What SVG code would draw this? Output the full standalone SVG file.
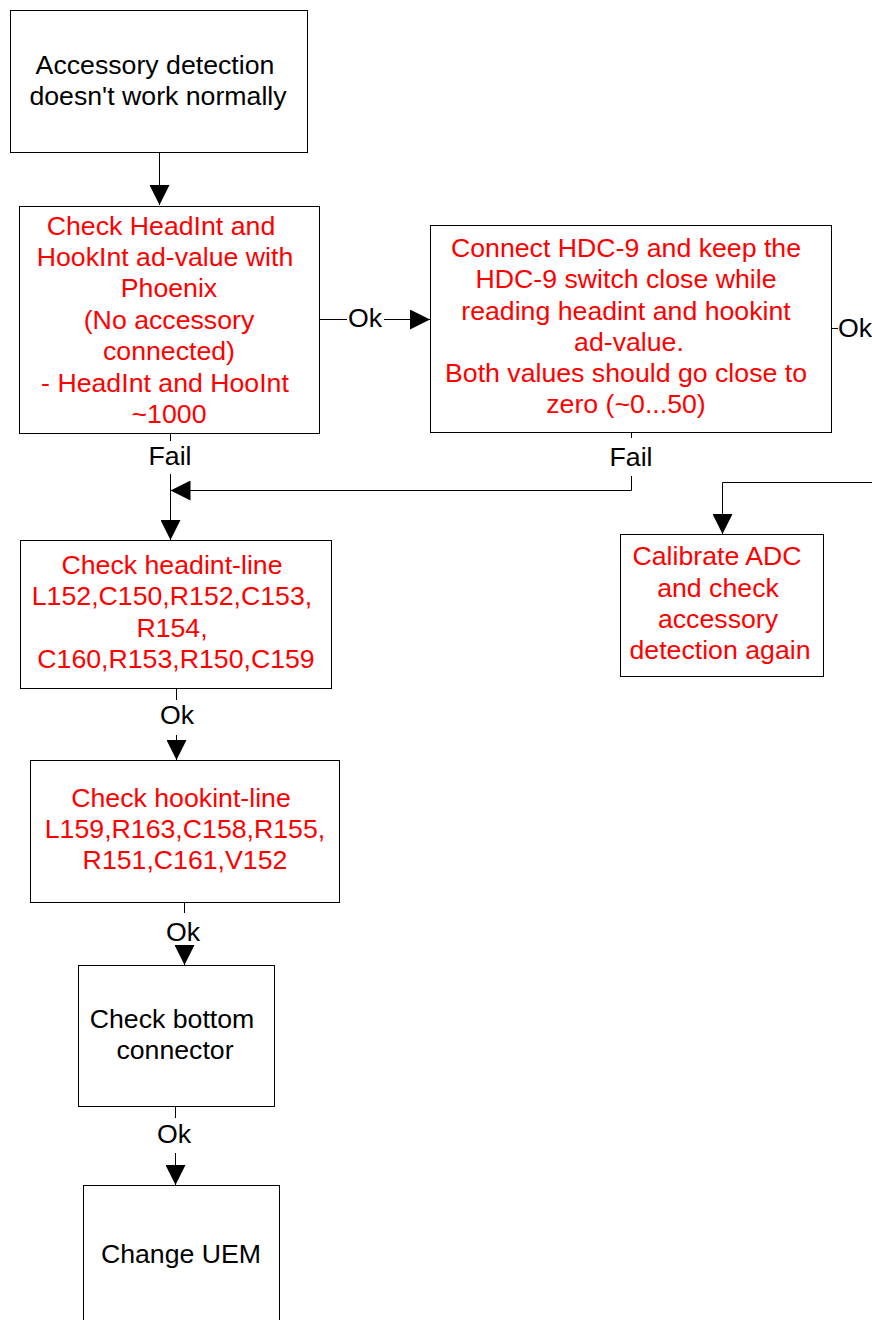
<svg xmlns="http://www.w3.org/2000/svg" width="872" height="1320" viewBox="0 0 872 1320">
<style>
.box{fill:#fff;stroke:#000;stroke-width:1}
text{font-family:"Liberation Sans",Arial,sans-serif;font-size:26.7px;text-anchor:middle}
.r{fill:#ff0000}
.k{fill:#000}
.ln{fill:none;stroke:#000;stroke-width:1}
</style>
<defs>
<marker id="ah" viewBox="0 0 20 20" refX="20" refY="10" markerWidth="20" markerHeight="20" markerUnits="userSpaceOnUse" orient="auto">
<path d="M0,0 L20,10 L0,20 z" fill="#000"/>
</marker>
</defs>
<g id="connectors">
<path class="ln" d="M159.5,152 V205" marker-end="url(#ah)"/>
<path class="ln" d="M320,319.5 H347"/>
<path class="ln" d="M384,319.5 H430" marker-end="url(#ah)"/>
<path class="ln" d="M832,328.5 H838"/>
<path class="ln" d="M170.5,433 V441"/>
<path class="ln" d="M170.5,474 V540" marker-end="url(#ah)"/>
<path class="ln" d="M631.5,432 V438"/>
<path class="ln" d="M631.5,476 V490.5 H170.5" marker-end="url(#ah)"/>
<path class="ln" d="M872,482.5 H722.5 V534" marker-end="url(#ah)"/>
<path class="ln" d="M176.5,688 V700"/>
<path class="ln" d="M176.5,735 V760" marker-end="url(#ah)"/>
<path class="ln" d="M184.5,902 V913"/>
<path class="ln" d="M184.5,950 V965" marker-end="url(#ah)"/>
<path class="ln" d="M175.5,1107 V1118"/>
<path class="ln" d="M175.5,1153 V1185" marker-end="url(#ah)"/>
<text class="k" x="365" y="327">Ok</text>
<text class="k" x="838" y="337" style="text-anchor:start">Ok</text>
<text class="k" x="170" y="465">Fail</text>
<text class="k" x="631" y="466">Fail</text>
<text class="k" x="177" y="724">Ok</text>
<text class="k" x="183" y="941">Ok</text>
<text class="k" x="174" y="1143">Ok</text>
</g>
<g id="n1">
<rect class="box" x="10.5" y="10.5" width="297" height="142"/>
<text class="k" x="155" y="74">Accessory detection</text>
<text class="k" x="158" y="105">doesn't work normally</text>
</g>
<g id="n2">
<rect class="box" x="19.5" y="206.5" width="300" height="227"/>
<text class="r" x="161" y="235">Check HeadInt and</text>
<text class="r" x="165" y="266">HookInt ad-value with</text>
<text class="r" x="169" y="297">Phoenix</text>
<text class="r" x="169" y="329">(No accessory</text>
<text class="r" x="169" y="360">connected)</text>
<text class="r" x="165" y="392">- HeadInt and HooInt</text>
<text class="r" x="169" y="423">~1000</text>
</g>
<g id="n3">
<rect class="box" x="430.5" y="225.5" width="401" height="207"/>
<text class="r" x="626" y="257">Connect HDC-9 and keep the</text>
<text class="r" x="626" y="288">HDC-9 switch close while</text>
<text class="r" x="626" y="320">reading headint and hookint</text>
<text class="r" x="629" y="351">ad-value.</text>
<text class="r" x="626" y="382">Both values should go close to</text>
<text class="r" x="626" y="413">zero (~0...50)</text>
</g>
<g id="n4">
<rect class="box" x="620.5" y="534.5" width="203" height="142"/>
<text class="r" x="717" y="565">Calibrate ADC</text>
<text class="r" x="718" y="597">and check</text>
<text class="r" x="718" y="628">accessory</text>
<text class="r" x="720" y="659">detection again</text>
</g>
<g id="n5">
<rect class="box" x="20.5" y="540.5" width="311" height="148"/>
<text class="r" x="172" y="574">Check headint-line</text>
<text class="r" x="172" y="605">L152,C150,R152,C153,</text>
<text class="r" x="172" y="637">R154,</text>
<text class="r" x="176" y="668">C160,R153,R150,C159</text>
</g>
<g id="n6">
<rect class="box" x="30.5" y="760.5" width="309" height="142"/>
<text class="r" x="181" y="807">Check hookint-line</text>
<text class="r" x="185" y="838">L159,R163,C158,R155,</text>
<text class="r" x="185" y="869">R151,C161,V152</text>
</g>
<g id="n7">
<rect class="box" x="78.5" y="965.5" width="196" height="141"/>
<text class="k" x="172" y="1028">Check bottom</text>
<text class="k" x="175" y="1059">connector</text>
</g>
<g id="n8">
<rect class="box" x="83.5" y="1185.5" width="196" height="160"/>
<text class="k" x="181" y="1263">Change UEM</text>
</g>
</svg>
